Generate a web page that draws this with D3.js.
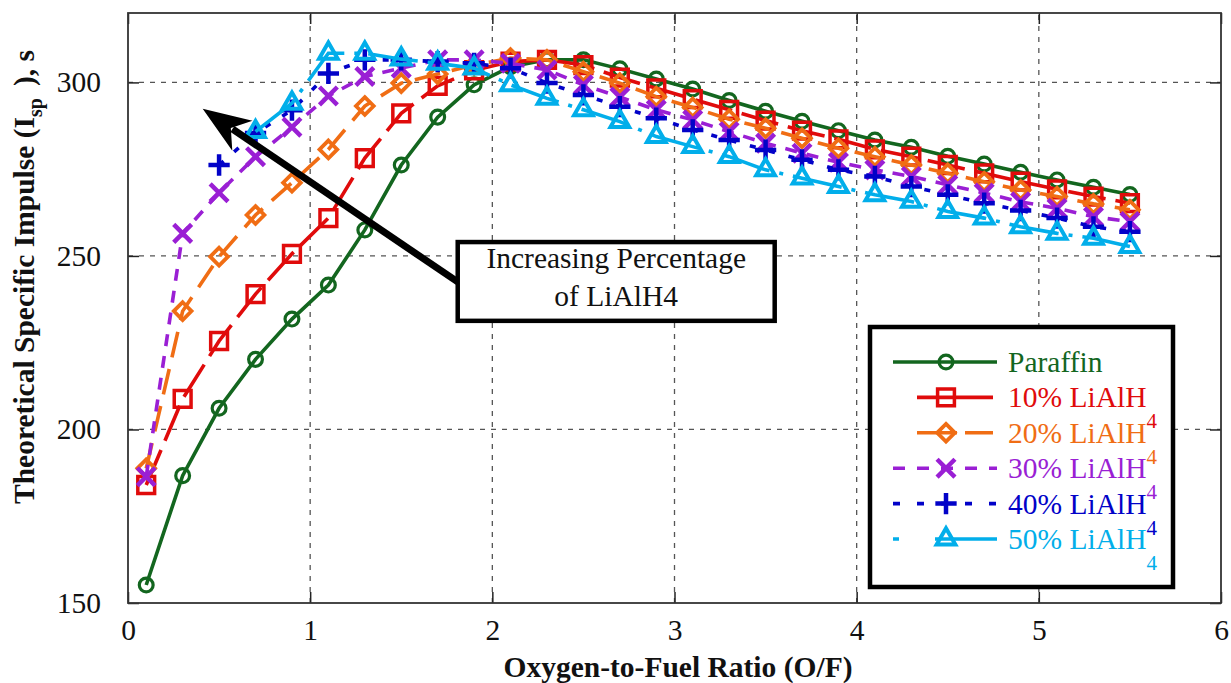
<!DOCTYPE html>
<html>
<head>
<meta charset="utf-8">
<script src="https://cdn.jsdelivr.net/npm/d3@7"></script>
<style>
  body { margin: 0; background: #fff; }
  svg text { font-family: "Liberation Serif", "Times New Roman", Times, "DejaVu Serif", serif; }
</style>
</head>
<body>
<div id="chart"></div>
<script>
// O/F ratio sample points
const ofRatio = [0.1, 0.3, 0.5, 0.7, 0.9, 1.1, 1.3, 1.5, 1.7, 1.9, 2.1, 2.3, 2.5, 2.7,
                 2.9, 3.1, 3.3, 3.5, 3.7, 3.9, 4.1, 4.3, 4.5, 4.7, 4.9, 5.1, 5.3, 5.5];

// Isp (s), null where the series has no point
const paraffin = [155.2, 186.7, 206.1, 220.2, 231.8, 241.6, 257.5, 276.2, 290.0, 299.3, 304.5, 306.5, 306.5, 303.9,
                  301.0, 298.1, 294.8, 291.7, 288.8, 286.1, 283.4, 281.3, 278.7, 276.5, 274.1, 271.9, 269.8, 267.7];
const lialh10 = [184.0, 208.8, 225.5, 239.0, 250.6, 260.9, 278.2, 291.1, 299.0, 303.5, 306.0, 306.5, 305.0, 301.4,
                 298.3, 295.2, 292.1, 289.0, 286.1, 283.6, 280.7, 278.6, 276.2, 273.8, 271.4, 269.2, 267.1, 265.2];
const lialh20 = [188.8, 234.1, 249.8, 261.8, 271.1, 280.7, 293.2, 299.8, 302.4, 305.0, 307.0, 306.5, 303.1, 299.8,
                 295.9, 292.8, 289.4, 286.8, 283.9, 281.0, 278.6, 276.2, 273.8, 271.4, 269.0, 267.1, 265.0, 263.3];
const lialh30 = [186.4, 256.5, 268.2, 278.6, 287.1, 296.1, 301.7, 304.1, 306.5, 306.5, 305.5, 303.6, 299.3, 295.8,
                 292.1, 289.2, 285.8, 282.5, 279.6, 277.0, 274.8, 272.9, 270.5, 268.1, 265.6, 263.7, 261.3, 259.9];
const lialh40 = [null, null, 276.2, 285.4, 292.0, 302.6, 306.5, 306.5, 306.0, 305.5, 304.1, 299.8, 296.4, 293.0,
                 289.7, 286.3, 283.4, 280.5, 277.7, 274.8, 272.9, 270.0, 267.6, 265.2, 263.1, 260.9, 258.4, 257.0];
const lialh50 = [null, null, null, 285.8, 294.0, 308.4, 308.4, 306.7, 305.5, 304.1, 299.3, 295.4, 292.1, 288.7,
                 284.4, 281.5, 278.6, 274.8, 272.4, 270.0, 267.6, 265.7, 262.8, 260.9, 258.4, 256.5, 255.1, 252.7];

const xTicks = [0, 1, 2, 3, 4, 5, 6];
const yTicks = [150, 200, 250, 300];

// dash = pattern in the plot, lgDash = pattern of the short legend sample
const series = [
  { label: "Paraffin",  sub: "",  values: paraffin, color: "#13661f", dash: null,         lgDash: null,        sym: "circle" },
  { label: "10% LiAlH", sub: "4", values: lialh10,  color: "#e00b0b", dash: "38,10",      lgDash: "0,24,76,4", sym: "square" },
  { label: "20% LiAlH", sub: "4", values: lialh20,  color: "#f06d14", dash: "26,12",      lgDash: "0,24,40,8,28,4", sym: "diamond" },
  { label: "30% LiAlH", sub: "4", values: lialh30,  color: "#9a1fd4", dash: "12,10",      lgDash: "12,12",     sym: "times" },
  { label: "40% LiAlH", sub: "4", values: lialh40,  color: "#0202c8", dash: "6,14",       lgDash: "7,17",      sym: "plus" },
  { label: "50% LiAlH", sub: "4", values: lialh50,  color: "#02aeea", dash: "50,10,4,10", lgDash: "6,36,62",   sym: "triangle" }
];

const FONT = "'Liberation Serif', 'Times New Roman', Times, 'DejaVu Serif', serif";
const FS = 29.5;
const W = 1231, H = 683;
const x = d3.scaleLinear().domain([0, 6]).range([128, 1221]);
const y = d3.scaleLinear().domain([150, 320]).range([603, 13]);

const svg = d3.select("#chart").append("svg")
    .attr("width", W)
    .attr("height", H)
    .attr("font-family", FONT);

// grid
svg.append("g").selectAll("line")
    .data(xTicks.slice(1, -1))
  .enter().append("line")
    .attr("x1", d => x(d)).attr("x2", d => x(d))
    .attr("y1", y.range()[0]).attr("y2", y.range()[1])
    .attr("stroke", "#555").attr("stroke-width", 1.3).attr("stroke-dasharray", "5,6");

svg.append("g").selectAll("line")
    .data(yTicks.slice(1))
  .enter().append("line")
    .attr("x1", x.range()[0]).attr("x2", x.range()[1])
    .attr("y1", d => y(d)).attr("y2", d => y(d))
    .attr("stroke", "#555").attr("stroke-width", 1.3).attr("stroke-dasharray", "5,6");

// axes (ticks inward on all four sides)
const tickLen = 11;
svg.append("g").attr("transform", "translate(0," + y.range()[0] + ")")
    .call(d3.axisBottom(x).tickValues(xTicks).tickSize(-tickLen).tickPadding(16).tickFormat(d3.format("d")));
svg.append("g").attr("transform", "translate(0," + y.range()[1] + ")")
    .call(d3.axisTop(x).tickValues(xTicks).tickSize(-tickLen).tickFormat(""));
svg.append("g").attr("transform", "translate(" + x.range()[0] + ",0)")
    .call(d3.axisLeft(y).tickValues(yTicks).tickSize(-tickLen).tickPadding(27).tickFormat(d3.format("d")));
svg.append("g").attr("transform", "translate(" + x.range()[1] + ",0)")
    .call(d3.axisRight(y).tickValues(yTicks).tickSize(-tickLen).tickFormat(""));

svg.selectAll(".domain").remove();
svg.selectAll("g").attr("font-family", FONT);
svg.selectAll(".tick line").attr("stroke", "#222").attr("stroke-width", 1.5);
svg.selectAll(".tick text")
    .attr("font-size", FS)
    .attr("fill", "#111");

svg.append("rect")
    .attr("x", x.range()[0]).attr("y", y.range()[1])
    .attr("width", x.range()[1] - x.range()[0])
    .attr("height", y.range()[0] - y.range()[1])
    .attr("fill", "none").attr("stroke", "#333").attr("stroke-width", 1.8);

// symbols
function symType(name) {
  const m = {
    circle: d3.symbolCircle,
    square: d3.symbolSquare2 || d3.symbolSquare,
    diamond: d3.symbolDiamond2 || d3.symbolDiamond,
    times: d3.symbolTimes || d3.symbolCross,
    plus: d3.symbolPlus || d3.symbolCross,
    triangle: d3.symbolTriangle2 || d3.symbolTriangle
  };
  return m[name];
}
const symSize = { circle: 150, square: 360, diamond: 200, times: 210, plus: 150, triangle: 250 };
const symStroke = { circle: 3.2, square: 3.5, diamond: 3.8, times: 4.5, plus: 4.5, triangle: 4 };

const line = d3.line()
    .defined(d => d.v != null)
    .x(d => x(d.r))
    .y(d => y(d.v));

series.forEach(s => {
  const pts = ofRatio.map((r, i) => ({ r: r, v: s.values[i] }));
  const g = svg.append("g");
  g.append("path")
      .datum(pts)
      .attr("d", line)
      .attr("fill", "none")
      .attr("stroke", s.color)
      .attr("stroke-width", 3.6)
      .attr("stroke-dasharray", s.dash);
  g.selectAll("path.mk")
      .data(pts.filter(d => d.v != null))
    .enter().append("path")
      .attr("class", "mk")
      .attr("transform", d => "translate(" + x(d.r) + "," + y(d.v) + ")")
      .attr("d", d3.symbol().type(symType(s.sym)).size(symSize[s.sym]))
      .attr("fill", "none")
      .attr("stroke", s.color)
      .attr("stroke-width", symStroke[s.sym]);
});

// annotation: box + arrow, placed in data units
const noteBox = { x0: 1.81, x1: 3.55, yTop: 254, yBot: 231.3 };
const noteTail = { r: 1.81, v: 242.5 };
const noteTip = { r: 0.41, v: 292.4 };
const noteText = ["Increasing Percentage", "of LiAlH4"];

(function drawArrow() {
  const tx = x(noteTail.r), ty = y(noteTail.v);
  const hx = x(noteTip.r), hy = y(noteTip.v);
  const len = Math.hypot(hx - tx, hy - ty);
  const ux = (hx - tx) / len, uy = (hy - ty) / len;
  const nx = -uy, ny = ux;
  const L = 48, Wd = 18, notch = 34;
  svg.append("line")
      .attr("x1", tx).attr("y1", ty)
      .attr("x2", hx - ux * (notch + 2)).attr("y2", hy - uy * (notch + 2))
      .attr("stroke", "#000").attr("stroke-width", 7);
  const head = [
    [hx, hy],
    [hx - ux * L + nx * Wd, hy - uy * L + ny * Wd],
    [hx - ux * notch, hy - uy * notch],
    [hx - ux * L - nx * Wd, hy - uy * L - ny * Wd]
  ];
  svg.append("path")
      .attr("d", "M" + head.map(p => p.join(",")).join("L") + "Z")
      .attr("fill", "#000");
})();

svg.append("rect")
    .attr("x", x(noteBox.x0)).attr("y", y(noteBox.yTop))
    .attr("width", x(noteBox.x1) - x(noteBox.x0))
    .attr("height", y(noteBox.yBot) - y(noteBox.yTop))
    .attr("fill", "#fff").attr("stroke", "#000").attr("stroke-width", 4.5);

svg.append("g").selectAll("text")
    .data(noteText)
  .enter().append("text")
    .attr("x", (x(noteBox.x0) + x(noteBox.x1)) / 2)
    .attr("y", (d, i) => y(noteBox.yTop) + 26 + i * 38)
    .attr("text-anchor", "middle")
    .attr("font-size", FS)
    .attr("fill", "#111")
    .text(d => d);

// legend
const lg = { x: 870, y: 327, w: 303, h: 260, row0: 362, dy: 35.4 };
svg.append("rect")
    .attr("x", lg.x).attr("y", lg.y).attr("width", lg.w).attr("height", lg.h)
    .attr("fill", "#fff").attr("stroke", "#000").attr("stroke-width", 4.5);

series.forEach((s, i) => {
  const cy = lg.row0 + i * lg.dy;
  const g = svg.append("g");
  g.append("line")
      .attr("x1", 893).attr("x2", 997).attr("y1", cy).attr("y2", cy)
      .attr("stroke", s.color).attr("stroke-width", 3.6)
      .attr("stroke-dasharray", s.lgDash);
  g.append("path")
      .attr("transform", "translate(946," + cy + ")")
      .attr("d", d3.symbol().type(symType(s.sym)).size(symSize[s.sym]))
      .attr("fill", "none").attr("stroke", s.color).attr("stroke-width", symStroke[s.sym]);
  const t = g.append("text")
      .attr("x", 1008).attr("y", cy + 10)
      .attr("font-size", FS)
      .attr("fill", s.color)
      .text(s.label);
  if (s.sub) {
    t.append("tspan").attr("font-size", 21).attr("dy", 21).text(s.sub);
  }
});

// axis titles
svg.append("text")
    .attr("x", 678).attr("y", 677)
    .attr("text-anchor", "middle")
    .attr("font-size", FS).attr("font-weight", "bold").attr("fill", "#111")
    .text("Oxygen-to-Fuel Ratio (O/F)");

const yl = svg.append("text")
    .attr("transform", "translate(34,277) rotate(-90)")
    .attr("text-anchor", "middle")
    .attr("font-size", FS).attr("font-weight", "bold").attr("fill", "#111");
yl.append("tspan").text("Theoretical Specific Impulse (I");
yl.append("tspan").attr("font-size", 20).attr("dy", 8).text("sp");
yl.append("tspan").attr("dx", 12).attr("dy", -8).text("), s");
</script>
</body>
</html>
